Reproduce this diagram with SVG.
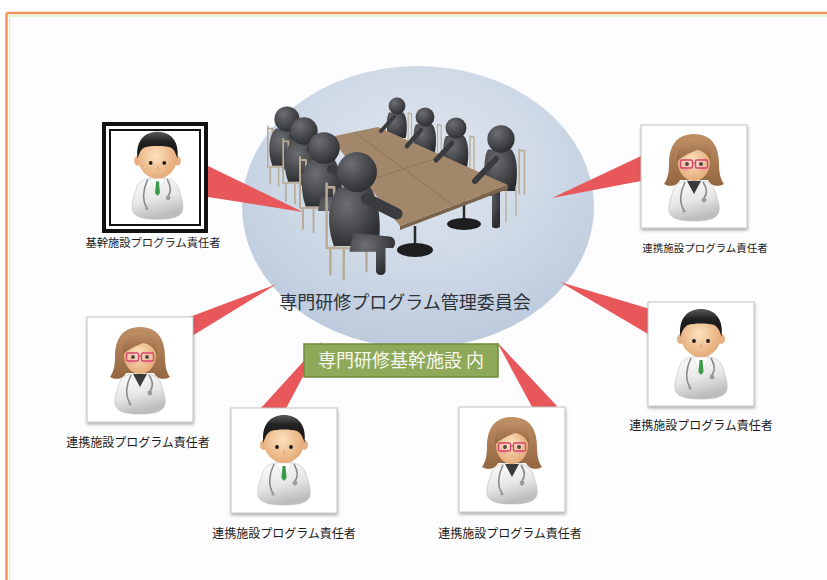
<svg xmlns="http://www.w3.org/2000/svg" xmlns:xlink="http://www.w3.org/1999/xlink" width="827" height="580" viewBox="0 0 827 580">
  <style>
    .lbl { font-family: "Noto Sans CJK JP", "Noto Sans", sans-serif; font-size: 12px; fill: #1c1c1c; text-anchor: middle; }
    .title { font-family: "Noto Sans CJK JP", "Noto Sans", sans-serif; font-size: 18px; fill: #2f3338; text-anchor: middle; }
    .site { font-family: "Noto Sans CJK JP", "Noto Sans", sans-serif; font-size: 18px; fill: #f6f8ee; text-anchor: middle; }
    .card { fill: #ffffff; stroke: #c4c4c4; stroke-width: 1; filter: url(#shadow); }
    .wedge { fill: #e8575a; }
    .fig { fill: url(#figShade); }
    .chair { stroke: #b9ab95; stroke-width: 1.3; fill: none; stroke-linecap: round; }
  </style>
  <defs>
    <filter id="shadow" x="-10%" y="-10%" width="125%" height="125%">
      <feDropShadow dx="0.5" dy="2" stdDeviation="1.4" flood-color="#555" flood-opacity="0.45"/>
    </filter>
    <radialGradient id="blueDisc" cx="50%" cy="35%" r="65%">
      <stop offset="0" stop-color="#e0e6ee"/>
      <stop offset="0.6" stop-color="#cdd8e6"/>
      <stop offset="1" stop-color="#bccadc"/>
    </radialGradient>
    <linearGradient id="coat" x1="0" y1="0" x2="0.3" y2="1">
      <stop offset="0" stop-color="#ffffff"/>
      <stop offset="0.6" stop-color="#e6e6e6"/>
      <stop offset="1" stop-color="#bdbdbd"/>
    </linearGradient>
    <radialGradient id="skin" cx="45%" cy="45%" r="60%">
      <stop offset="0" stop-color="#fde1bf"/>
      <stop offset="1" stop-color="#e3a772"/>
    </radialGradient>
    <linearGradient id="hairM" x1="0" y1="0" x2="0" y2="1">
      <stop offset="0" stop-color="#5a5a5a"/>
      <stop offset="0.35" stop-color="#222"/>
      <stop offset="1" stop-color="#111"/>
    </linearGradient>
    <linearGradient id="hairF" x1="0" y1="0" x2="0" y2="1">
      <stop offset="0" stop-color="#c09066"/>
      <stop offset="1" stop-color="#93663f"/>
    </linearGradient>
    <radialGradient id="figShade" cx="35%" cy="30%" r="75%">
      <stop offset="0" stop-color="#6c6e72"/>
      <stop offset="1" stop-color="#2c2d30"/>
    </radialGradient>

    <!-- male doctor icon -->
    <symbol id="drM" viewBox="0 0 106 105">
      <path d="M53,54 C40,54 33,58 31,66 C28,76 25,84 28,90 C32,96 42,97 53,97 C64,97 74,96 78,90 C81,84 78,76 75,66 C73,58 66,54 53,54 Z" fill="url(#coat)" stroke="#bcbcbc" stroke-width="0.6"/>
      <path d="M45,55 L53,72 L61,55 Z" fill="#fff" stroke="#cfcfcf" stroke-width="0.5"/>
      <path d="M51.5,58 L54.5,58 L55.5,70 L53,73 L50.5,70 Z" fill="#3a9a4a"/>
      <path d="M43,56 C38,66 37,78 42,85 M63,56 C67,63 67,69 64,73" fill="none" stroke="#8a8a8a" stroke-width="1.6"/>
      <circle cx="64" cy="75" r="2.4" fill="#9a9a9a"/>
      <circle cx="42" cy="86" r="1.6" fill="#9a9a9a"/>
      <ellipse cx="32.5" cy="37" rx="3.5" ry="5" fill="#e8b183"/>
      <ellipse cx="73.5" cy="37" rx="3.5" ry="5" fill="#e8b183"/>
      <ellipse cx="53" cy="34" rx="20" ry="21" fill="url(#skin)"/>
      <path d="M32.5,35 C30,16 40,7 53,7 C66,7 76,16 73.5,35 C72,29 70,25 66,23 C60,21 46,21 40,23 C36,25 34,29 32.5,35 Z" fill="url(#hairM)"/>
      <circle cx="46" cy="39" r="1.9" fill="#1a1a1a"/>
      <circle cx="60" cy="39" r="1.9" fill="#1a1a1a"/>
      <path d="M53,42 L53.6,46" stroke="#d39a6a" stroke-width="1"/>
    </symbol>

    <!-- female doctor icon -->
    <symbol id="drF" viewBox="0 0 106 105">
      <path d="M53,10 C34,10 28,24 28,40 C28,50 26,56 23,60 C30,64 37,61 39,56 L67,56 C69,61 76,64 83,60 C80,56 78,50 78,40 C78,24 72,10 53,10 Z" fill="url(#hairF)"/>
      <path d="M53,56 C41,56 34,60 32,67 C29,77 26,84 29,90 C33,96 42,97 53,97 C64,97 73,96 77,90 C80,84 77,77 74,67 C72,60 65,56 53,56 Z" fill="url(#coat)" stroke="#bcbcbc" stroke-width="0.6"/>
      <path d="M46,57 L53,70 L60,57 Z" fill="#3b3b3b"/>
      <path d="M44,58 C39,68 38,79 43,86 M62,58 C66,64 66,70 63,74" fill="none" stroke="#8a8a8a" stroke-width="1.6"/>
      <circle cx="63" cy="76" r="2.4" fill="#9a9a9a"/>
      <circle cx="43" cy="87" r="1.6" fill="#9a9a9a"/>
      <ellipse cx="53" cy="38" rx="16" ry="19" fill="url(#skin)"/>
      <path d="M36,38 C35,22 43,15 54,15 C64,15 71,23 70,38 C67,30 62,27 56,26 C50,29 42,31 36,38 Z" fill="url(#hairF)"/>
      <ellipse cx="44" cy="45" rx="4" ry="2.5" fill="#f3a0a0" opacity="0.6"/>
      <ellipse cx="62" cy="45" rx="4" ry="2.5" fill="#f3a0a0" opacity="0.6"/>
      <circle cx="46" cy="40" r="2" fill="#1a1a1a"/>
      <circle cx="60" cy="40" r="2" fill="#1a1a1a"/>
      <rect x="39.5" y="36" width="12" height="8" rx="1.5" fill="#ffd6e0" fill-opacity="0.25" stroke="#d2466a" stroke-width="1.4"/>
      <rect x="54.5" y="36" width="12" height="8" rx="1.5" fill="#ffd6e0" fill-opacity="0.25" stroke="#d2466a" stroke-width="1.4"/>
      <path d="M51.5,39 L54.5,39" stroke="#d2466a" stroke-width="1.2"/>
    </symbol>

    <!-- seated figure facing right, with chair on the left -->
    <symbol id="sitR" overflow="visible">
      <path class="chair" d="M-16,6 L-16,40 M-12,8 L-12,40 M-16,8 L-12,8 M-15,40 L8,40 M-14,40 L-14,54 M-7,41 L-7,56 M5,41 L5,52"/>
      <path class="fig" d="M-9,8 C-16,13 -16,30 -12,39 L11,39 C13,30 12,15 7,8 Z"/>
      <path class="fig" d="M-2,32 L17,34 C20,34 21,38 19,40 L15,40 L15,52 C15,55 10,55 10,52 L10,42 L-4,42 Z"/>
      <path d="M5,14 L21,22" stroke="#3a3b3e" stroke-width="6" stroke-linecap="round"/>
      <circle cx="0" cy="0" r="10.5" class="fig"/>
    </symbol>

    <!-- seated figure facing left, chair on the right -->
    <symbol id="sitL" overflow="visible">
      <path class="chair" d="M14,8 L14,42 M18,10 L18,42 M14,9 L18,9"/>
      <path class="fig" d="M-10,8 C-14,14 -13,30 -11,40 L11,40 C13,28 13,14 8,8 Z"/>
      <circle cx="0" cy="0" r="10.5" class="fig"/>
    </symbol>
  </defs>

  <!-- page frame -->
  <rect x="0" y="0" width="827" height="580" fill="#ffffff"/>
  <rect x="6.5" y="13" width="900" height="700" rx="2" fill="#fdfcfe" stroke="#f4955a" stroke-width="2.5"/>
  <rect x="9.5" y="16" width="900" height="700" fill="none" stroke="#d6f4c8" stroke-width="1.5"/>

  <!-- committee disc -->
  <g id="committee">
    <ellipse cx="418" cy="207" rx="176" ry="141" fill="url(#blueDisc)"/>
  </g>

  <!-- callout wedges -->
  <g id="connectors">
    <polygon class="wedge" points="208,166 208,197 303,212"/>
    <polygon class="wedge" points="641,156 641,181 552,198"/>
    <polygon class="wedge" points="187,318 192,336 277,284"/>
    <polygon class="wedge" points="261,408 283,414 322,341"/>
    <polygon class="wedge" points="538,418 557,406 497,342"/>
    <polygon class="wedge" points="650,309 648,334 560,282"/>
  </g>

  <!-- meeting scene -->
  <g id="meeting">
    <use href="#sitL" transform="translate(397,106) scale(0.8)"/>
    <use href="#sitL" transform="translate(425,117) scale(0.9)"/>
    <use href="#sitL" transform="translate(456,128) scale(1)"/>
    <use href="#sitL" transform="translate(501,139) scale(1.3)"/>
    <!-- legs of the far-end figure under the table -->
    <path class="fig" d="M480,186 L500,186 L500,226 C500,229 492,229 492,226 L492,196 L480,196 Z"/>
    <path class="chair" d="M506,190 L506,222 M516,186 L516,216"/>
    <!-- pedestals -->
    <path d="M415,226 L415,248 M464,194 L464,222" stroke="#2a2a2a" stroke-width="2.5"/>
    <ellipse cx="415" cy="250" rx="18" ry="7" fill="#1e1e1e"/>
    <ellipse cx="464" cy="224" rx="17" ry="6" fill="#1e1e1e"/>
    <!-- table -->
    <polygon points="400,226 508,185 508,189 400,230" fill="#7a634c"/>
    <polygon points="330,137 378,127 508,185 400,226" fill="#a3876a"/>
    <path d="M364,182 L443,156 M354,132 L454,206" stroke="#8a7058" stroke-width="0.8"/>
    <!-- forearms resting on the table -->
    <path d="M394,117 L381,131" stroke="#3a3b3e" stroke-width="4" stroke-linecap="round"/>
    <path d="M421,130 L407,146" stroke="#3a3b3e" stroke-width="4.5" stroke-linecap="round"/>
    <path d="M452,143 L436,160" stroke="#3a3b3e" stroke-width="5" stroke-linecap="round"/>
    <path d="M496,159 L475,181" stroke="#3a3b3e" stroke-width="6" stroke-linecap="round"/>
    <use href="#sitR" transform="translate(287,119) scale(1.2)"/>
    <use href="#sitR" transform="translate(304,131) scale(1.3)"/>
    <use href="#sitR" transform="translate(324,148) scale(1.5)"/>
    <use href="#sitR" transform="translate(357,172) scale(1.9)"/>
    <text class="title" x="405" y="309">専門研修プログラム管理委員会</text>
  </g>

  <!-- host site tag -->
  <g id="host-site">
    <rect x="304" y="344" width="194" height="33" fill="#8fa95b" stroke="#6f8a3d" stroke-width="1.5"/>
    <text class="site" x="401" y="367">専門研修基幹施設 内</text>
  </g>

  <!-- programme leads -->
  <g id="lead-core">
    <rect x="104" y="124" width="102" height="107" fill="#ffffff" stroke="#111" stroke-width="4"/>
    <rect x="110" y="130" width="90" height="95" fill="#ffffff" stroke="#111" stroke-width="2"/>
    <use href="#drM" x="106" y="125" width="103" height="102"/>
    <text class="lbl" x="153" y="247" style="font-size:11.3px">基幹施設プログラム責任者</text>
  </g>

  <g id="lead-partner-1">
    <rect class="card" x="641" y="125" width="106" height="103"/>
    <use href="#drF" x="641" y="124" width="106" height="105"/>
    <text class="lbl" x="705" y="252" style="font-size:10.5px">連携施設プログラム責任者</text>
  </g>

  <g id="lead-partner-2">
    <rect class="card" x="87" y="317" width="106" height="105"/>
    <use href="#drF" x="87" y="317" width="106" height="105"/>
    <text class="lbl" x="138" y="447">連携施設プログラム責任者</text>
  </g>

  <g id="lead-partner-3">
    <rect class="card" x="231" y="408" width="106" height="105"/>
    <use href="#drM" x="231" y="408" width="106" height="105"/>
    <text class="lbl" x="284" y="538">連携施設プログラム責任者</text>
  </g>

  <g id="lead-partner-4">
    <rect class="card" x="459" y="407" width="106" height="105"/>
    <use href="#drF" x="459" y="407" width="106" height="105"/>
    <text class="lbl" x="510" y="538">連携施設プログラム責任者</text>
  </g>

  <g id="lead-partner-5">
    <rect class="card" x="648" y="302" width="106" height="104"/>
    <use href="#drM" x="648" y="302" width="106" height="105"/>
    <text class="lbl" x="701" y="430">連携施設プログラム責任者</text>
  </g>
</svg>
